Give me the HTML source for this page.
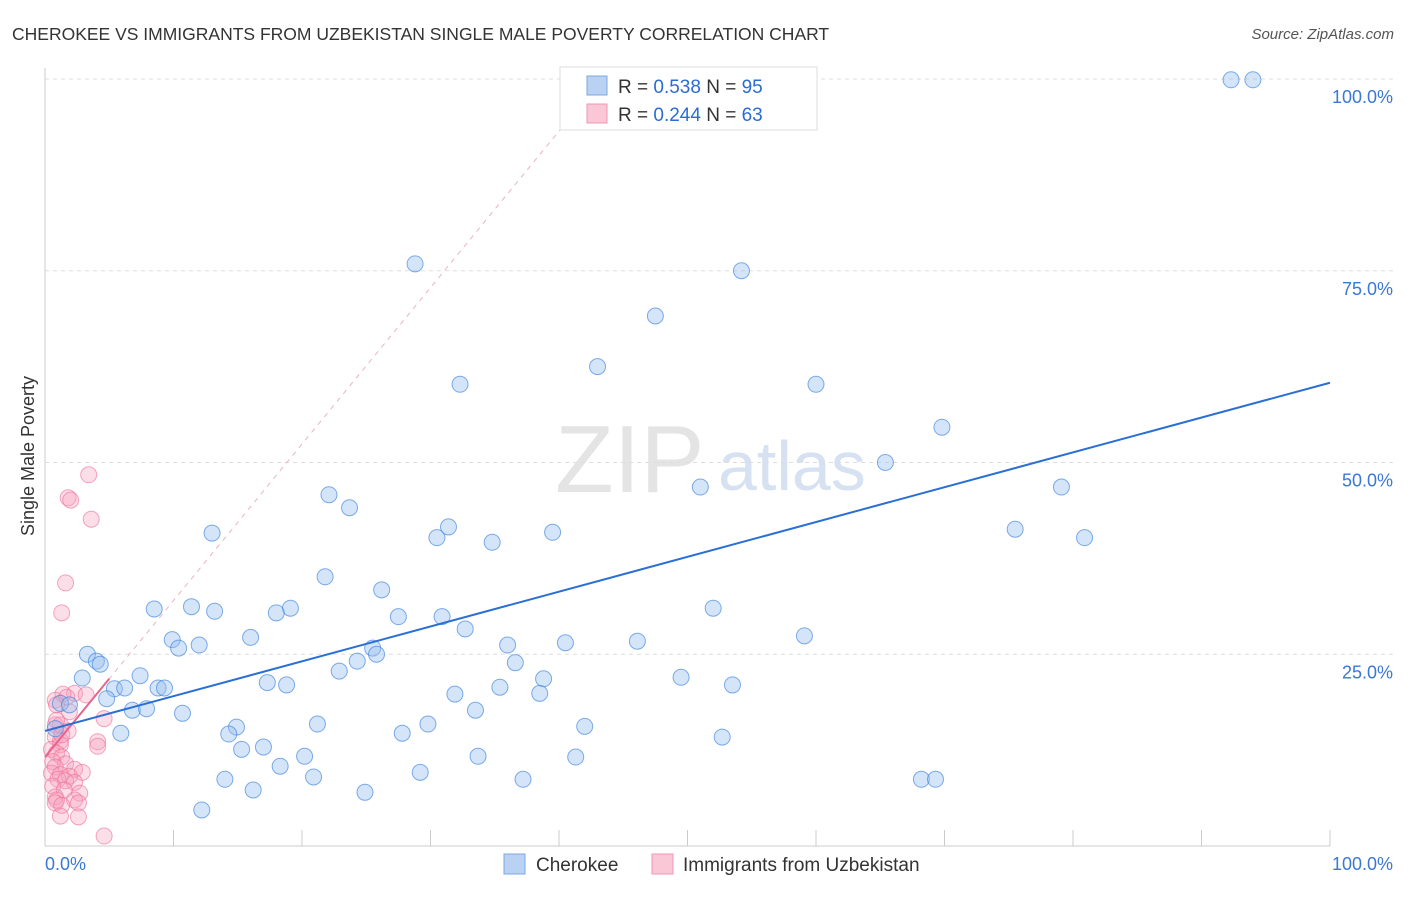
<!DOCTYPE html>
<html><head><meta charset="utf-8"><style>
body{margin:0;background:#fff;font-family:"Liberation Sans",sans-serif}
svg text{font-family:"Liberation Sans",sans-serif}
</style></head><body>
<svg id="c" width="1406" height="892">
<text x="12" y="40" font-size="17.5" fill="#333">CHEROKEE VS IMMIGRANTS FROM UZBEKISTAN SINGLE MALE POVERTY CORRELATION CHART</text>
<text x="1394" y="39" font-size="15" fill="#555" text-anchor="end" font-style="italic">Source: ZipAtlas.com</text>
<text x="555" y="492" font-size="96" fill="#e4e4e4" font-family="Liberation Serif">ZIP</text>
<text x="718" y="490" font-size="70" fill="#d6e2f2">atlas</text>
<text transform="translate(34,456) rotate(-90)" font-size="18" fill="#333" text-anchor="middle">Single Male Poverty</text>
<g id="grid"></g><g id="pts"></g><g id="lines"></g>
<g>
<rect x="560" y="67" width="257" height="63" fill="#fff" stroke="#ddd"/>
<rect x="587" y="76" width="20" height="19" fill="#b9d2f3" stroke="#7aa7e3"/>
<rect x="587" y="104" width="20" height="19" fill="#f9c7d6" stroke="#ef97b3"/>
<text x="618" y="93" font-size="19" fill="#333">R = <tspan fill="#2b6cd4">0.538</tspan>   N = <tspan fill="#2b6cd4">95</tspan></text>
<text x="618" y="121" font-size="19" fill="#333">R = <tspan fill="#2b6cd4">0.244</tspan>   N = <tspan fill="#2b6cd4">63</tspan></text>
</g>
<g>
<rect x="504" y="854" width="21" height="20" fill="#b9d2f3" stroke="#7aa7e3"/>
<text x="536" y="871" font-size="19" fill="#333">Cherokee</text>
<rect x="652" y="854" width="21" height="20" fill="#f9c7d6" stroke="#ef97b3"/>
<text x="683" y="871" font-size="19" fill="#333">Immigrants from Uzbekistan</text>
</g>
</svg>
<script>
const blueX=[92.3,94.0,28.8,54.2,47.5,43.0,32.3,60.0,69.8,65.4,51.0,79.1,22.1,23.7,13.0,31.4,30.5,39.5,34.8,75.5,80.9,21.8,26.2,8.5,11.4,13.2,19.1,18.0,27.5,30.9,52.0,32.7,9.9,10.4,12.0,16.0,36.0,40.5,46.1,59.1,25.5,25.8,24.3,3.3,4.0,4.3,36.6,22.9,7.4,2.9,49.5,38.8,17.3,18.8,31.9,35.4,53.5,5.4,6.2,8.8,9.3,4.8,38.5,1.2,1.9,6.8,7.9,10.7,33.5,21.2,29.8,42.0,0.8,14.9,5.9,14.3,27.8,52.7,15.3,17.0,20.2,33.7,41.3,18.3,29.2,14.0,20.9,37.2,68.2,69.3,16.2,24.9,12.2];
const blueY=[99.9,99.9,75.9,75.0,69.1,62.5,60.2,60.2,54.6,50.0,46.8,46.8,45.8,44.1,40.8,41.6,40.2,40.9,39.6,41.3,40.2,35.1,33.4,30.9,31.2,30.6,31.0,30.4,29.9,29.9,31.0,28.3,26.9,25.8,26.2,27.2,26.2,26.5,26.7,27.4,25.8,25.0,24.1,25.0,24.1,23.7,23.9,22.8,22.2,21.9,22.0,21.8,21.3,21.0,19.8,20.7,21.0,20.5,20.6,20.6,20.6,19.2,19.9,18.6,18.4,17.7,17.9,17.3,17.7,15.9,15.9,15.6,15.3,15.5,14.7,14.6,14.7,14.2,12.6,12.9,11.7,11.7,11.6,10.4,9.6,8.7,9.0,8.7,8.7,8.7,7.3,7.0,4.7];
const pinkX=[3.4,1.8,2.0,3.6,1.6,1.3,2.3,1.4,0.8,1.7,3.2,0.9,1.9,4.6,1.8,0.8,1.2,4.1,4.1,1.2,0.5,0.9,1.3,0.6,1.6,0.8,2.3,2.9,0.5,1.2,1.9,1.0,1.6,2.3,0.6,1.5,2.7,0.8,0.9,2.3,0.8,2.6,1.3,1.2,2.6,4.6,0.8,1.2,0.9,1.3];
const pinkY=[48.4,45.4,45.1,42.6,34.3,30.4,19.9,19.8,19.0,19.4,19.7,18.4,17.5,16.6,15.0,14.2,13.7,13.6,13.0,13.2,12.6,12.1,11.6,11.0,10.7,10.3,10.0,9.6,9.5,9.3,9.1,8.7,8.5,8.3,7.8,7.3,6.9,6.4,6.0,6.0,5.6,5.6,5.3,3.9,3.8,1.3,15.8,15.8,16.4,14.5];
const yTicks=[25,50,75,100];
const yTickLabels=["25.0%","50.0%","75.0%","100.0%"];
const xTickLabels=["0.0%","100.0%"];
const blueTrend=[15.0,60.4];
const pinkTrend=[11.6,2.04];
const NS="http://www.w3.org/2000/svg";
const X=v=>45+v*12.85, Y=v=>846-v*7.67;
function mk(t,a,p){const e=document.createElementNS(NS,t);for(const k in a)e.setAttribute(k,a[k]);p.appendChild(e);return e;}
const grid=document.getElementById('grid'),pts=document.getElementById('pts'),ln=document.getElementById('lines');
let ax=mk('line',{x1:45,y1:68,x2:45,y2:846,stroke:'#ccc'},grid);


let bx=mk('line',{x1:45,y1:846,x2:1330,y2:846,stroke:'#ccc'},grid);


for(let i=1;i<=10;i++){let t=mk('line',{x1:X(i*10),y1:830,x2:X(i*10),y2:846,stroke:'#ccc'},grid);

}
yTicks.forEach((v,i)=>{let g=mk('line',{x1:45,y1:Y(v),x2:1394,y2:Y(v),stroke:'#ddd','stroke-dasharray':'4,4'},grid);


let t=mk('text',{x:1393,y:Y(v)+24,'font-size':18,fill:'#3a78d6','text-anchor':'end'},grid);t.textContent=yTickLabels[i];

});
[[0,45,'start'],[1,1393,'end']].forEach(([i,x,a])=>{let t=mk('text',{x:x,y:870,'font-size':18,fill:'#3a78d6','text-anchor':a},grid);t.textContent=xTickLabels[i];

});
pinkX.forEach((x,i)=>{let c=mk('circle',{cx:X(x),cy:Y(pinkY[i]),r:8,fill:'rgba(246,160,188,0.35)',stroke:'rgba(236,110,150,0.6)','stroke-width':1},pts);

});
blueX.forEach((x,i)=>{let c=mk('circle',{cx:X(x),cy:Y(blueY[i]),r:8,fill:'rgba(150,190,240,0.4)',stroke:'rgba(60,130,220,0.65)','stroke-width':1},pts);

});
let d=mk('line',{x1:X(0),y1:Y(pinkTrend[0]),x2:X(40.9),y2:Y(pinkTrend[0]+pinkTrend[1]*40.9),stroke:'#eab3c4','stroke-dasharray':'5,5','stroke-width':1},ln);


let p=mk('line',{x1:X(0),y1:Y(pinkTrend[0]),x2:X(5),y2:Y(pinkTrend[0]+pinkTrend[1]*5),stroke:'#e8648f','stroke-width':2},ln);


let b=mk('line',{x1:X(0),y1:Y(blueTrend[0]),x2:X(100),y2:Y(blueTrend[1]),stroke:'#2a6fd6','stroke-width':2},ln);


</script>
</body></html>
